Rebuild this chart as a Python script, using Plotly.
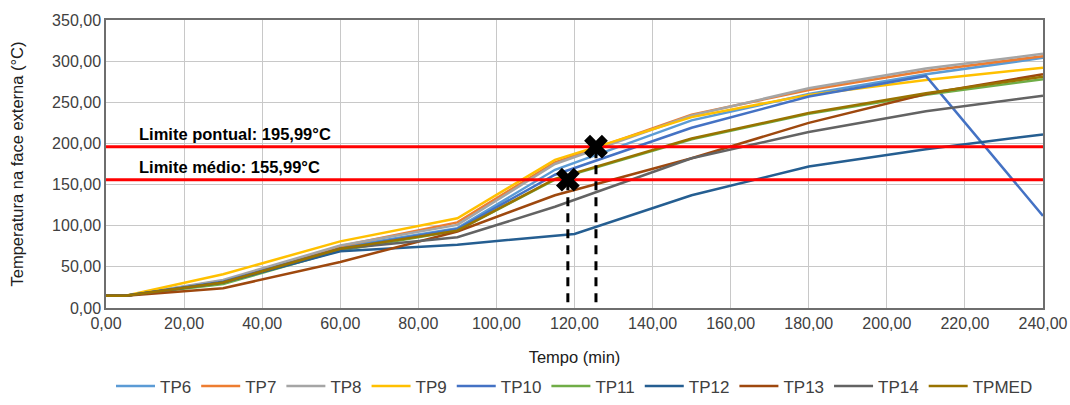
import plotly.graph_objects as go

# ---- data ----
times = [0, 5, 30, 60, 90, 115, 150, 180, 210, 240]
times_tp12 = [0, 5, 30, 60, 90, 120, 150, 180, 210, 240]

tp6 = [15, 15, 33, 74, 97, 168, 228, 260, 284, 304]
tp7 = [15, 15, 32, 75, 104, 177, 235, 265, 288, 306]
tp8 = [15, 15, 34, 76, 101, 175, 234, 267, 291, 309]
tp9 = [15, 15, 41, 81, 109, 180, 232, 259, 277, 292]
tp10 = [15, 15, 32, 72, 96, 162, 219, 257, 282, 112]
tp11 = [15, 15, 29, 70, 94, 156, 205, 236, 259, 278]
tp12 = [15, 15, 31, 69, 77, 90, 137, 172, 193, 211]
tp13 = [15, 15, 24, 56, 93, 137, 182, 225, 260, 284]
tp14 = [15, 15, 31, 72, 86, 123, 182, 214, 239, 258]
tpmed = [15, 15, 31, 72, 94, 157, 206, 237, 261, 281]

series_names = ["TP6", "TP7", "TP8", "TP9", "TP10", "TP11", "TP12", "TP13", "TP14", "TPMED"]
series_values = [tp6, tp7, tp8, tp9, tp10, tp11, tp12, tp13, tp14, tpmed]
series_times = [times, times, times, times, times, times, times_tp12, times, times, times]
series_colors = ["#5B9BD5", "#ED7D31", "#A5A5A5", "#FFC000", "#4472C4",
                 "#70AD47", "#255E91", "#9E480E", "#636363", "#997300"]

limit_values = [195.99, 155.99]
limit_labels = ["Limite pontual: 195,99°C", "Limite médio: 155,99°C"]
cross_times = [118.3, 125.5]
cross_temps = [155.99, 195.99]
dash_bottom = 7

x_ticks = [0, 20, 40, 60, 80, 100, 120, 140, 160, 180, 200, 220, 240]
y_ticks = [0, 50, 100, 150, 200, 250, 300, 350]

fig = go.Figure()

for name, t, v, c in zip(series_names, series_times, series_values, series_colors):
    fig.add_trace(go.Scatter(x=t, y=v, mode="lines", name=name,
                             line=dict(color=c, width=2.5)))

# red limit lines
for lv in limit_values:
    fig.add_trace(go.Scatter(x=[x_ticks[0], x_ticks[-1]], y=[lv, lv], mode="lines",
                             line=dict(color="#FF0000", width=3), showlegend=False,
                             hoverinfo="skip"))

# dashed verticals
for ct, cy in zip(cross_times, cross_temps):
    fig.add_trace(go.Scatter(x=[ct, ct], y=[dash_bottom, cy], mode="lines",
                             line=dict(color="black", width=3, dash="9px,7px"),
                             showlegend=False, hoverinfo="skip"))

fig.add_trace(go.Scatter(x=cross_times, y=cross_temps, mode="markers",
                         marker=dict(symbol="x", size=21, color="black"),
                         showlegend=False, hoverinfo="skip"))

ann_y = [212, 171.5]
for lbl, ay in zip(limit_labels, ann_y):
    fig.add_annotation(x=8, y=ay, xref="x", yref="y", text="<b>" + lbl + "</b>",
                       showarrow=False, xanchor="left", yanchor="middle",
                       font=dict(size=16.5, color="black", family="Liberation Sans"))

fig.update_layout(
    width=1070, height=405,
    margin=dict(l=106, r=27, t=20, b=97, autoexpand=False),
    paper_bgcolor="white", plot_bgcolor="white",
    separators=",.",
    font=dict(family="Liberation Sans", size=16, color="#404040"),
    showlegend=True,
    legend=dict(orientation="h", x=0.5, xanchor="center", y=-0.335, yanchor="bottom",
                font=dict(size=17, color="#404040"), itemwidth=39,
                tracegroupgap=0),
)
fig.update_xaxes(range=[0, 240], tickvals=x_ticks, tickformat=".2f", automargin=False,
                 showgrid=True, gridcolor="#C8C8C8", gridwidth=1,
                 showline=True, linecolor="#6E6E6E", linewidth=1.5, mirror=True,
                 ticks="", zeroline=False,
                 title=dict(text="Tempo (min)", font=dict(size=16.5, color="#202020"), standoff=20),
                 tickfont=dict(size=16, color="#404040"))
fig.update_yaxes(range=[0, 350], tickvals=y_ticks, tickformat=".2f", automargin=False,
                 showgrid=True, gridcolor="#C8C8C8", gridwidth=1,
                 showline=True, linecolor="#6E6E6E", linewidth=1.5, mirror=True,
                 ticks="", zeroline=False,
                 title=dict(text="Temperatura na face externa (°C)", font=dict(size=16.5, color="#202020"), standoff=24),
                 tickfont=dict(size=16, color="#404040"))

fig.write_html("out.html")
